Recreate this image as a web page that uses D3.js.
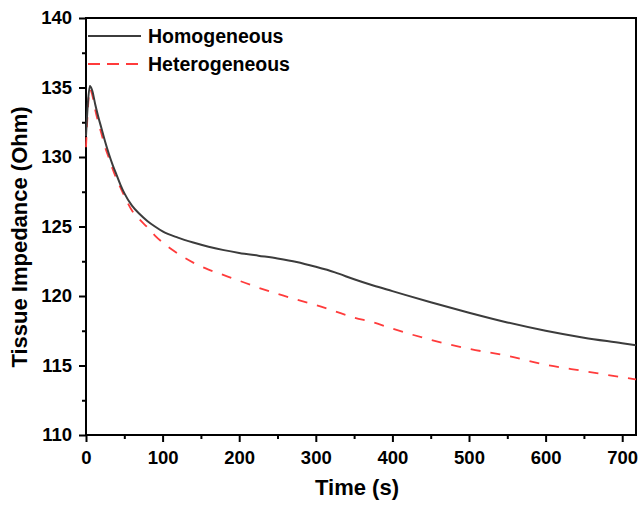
<!DOCTYPE html>
<html>
<head>
<meta charset="utf-8">
<script src="https://cdn.jsdelivr.net/npm/d3@7"></script>
<style>
  body { margin: 0; background: #fff; }
  text { font-family: "Liberation Sans", Arial, sans-serif; font-weight: bold; }
</style>
</head>
<body>
<div id="chart"></div>
<script>
// data
const time = [0, 2, 5, 8, 12, 16, 20, 25, 30, 35, 40, 45, 50, 60, 70, 80, 90, 100, 120, 140, 160, 180, 200,
  225, 250, 275, 300, 325, 350, 375, 400, 450, 500, 550, 600, 650, 700, 718];
const homogeneous = [131.5, 133.5, 135.1, 134.8, 133.8, 132.9, 132.1, 131.1, 130.2, 129.4, 128.7, 128.0, 127.4,
  126.5, 125.9, 125.4, 125.0, 124.65, 124.2, 123.85, 123.55, 123.3, 123.1, 122.9, 122.7, 122.45, 122.1,
  121.7, 121.2, 120.75, 120.35, 119.55, 118.8, 118.1, 117.5, 117.0, 116.6, 116.45];
const heterogeneous = [130.7, 133.0, 134.9, 134.5, 133.4, 132.5, 131.7, 130.7, 129.9, 129.1, 128.4, 127.8, 127.2,
  126.15, 125.5, 124.95, 124.35, 123.85, 123.05, 122.4, 121.9, 121.5, 121.1, 120.6, 120.15, 119.75, 119.35,
  118.9, 118.45, 118.1, 117.65, 116.85, 116.2, 115.7, 115.05, 114.6, 114.15, 114.0];
const xTicks = [0, 100, 200, 300, 400, 500, 600, 700];
const yTicks = [110, 115, 120, 125, 130, 135, 140];

const width = 638, height = 505;
const margin = {left: 86, right: 2, top: 18, bottom: 70};

const svg = d3.select("#chart").append("svg")
    .attr("width", width)
    .attr("height", height);

const x = d3.scaleLinear().domain([0, 718]).range([margin.left, width - margin.right]);
const y = d3.scaleLinear().domain([110, 140]).range([height - margin.bottom, margin.top]);

// minor ticks
const xAxisMinor = d3.axisBottom(x).tickValues(d3.range(50, 718, 100)).tickSize(4).tickFormat("");
const yAxisMinor = d3.axisLeft(y).tickValues(d3.range(112.5, 140, 5)).tickSize(4).tickFormat("");
svg.append("g").attr("transform", `translate(0,${y(110)})`).call(xAxisMinor);
svg.append("g").attr("transform", `translate(${x(0)},0)`).call(yAxisMinor);

// major
const xAxis = d3.axisBottom(x).tickValues(xTicks).tickSize(7).tickPadding(9);
const yAxis = d3.axisLeft(y).tickValues(yTicks).tickSize(7).tickPadding(7);
svg.append("g").attr("class", "xaxis").attr("transform", `translate(0,${y(110)})`).call(xAxis);
svg.append("g").attr("class", "yaxis").attr("transform", `translate(${x(0)},0)`).call(yAxis);

svg.selectAll(".tick line").attr("stroke", "#000").attr("stroke-width", 2);
svg.selectAll(".domain").remove();
svg.selectAll(".tick text").attr("font-size", 18.5).attr("fill", "#000");

// frame
svg.append("rect")
    .attr("x", x(0)).attr("y", y(140))
    .attr("width", x(718) - x(0)).attr("height", y(110) - y(140))
    .attr("fill", "none").attr("stroke", "#000").attr("stroke-width", 2);

// lines
const pts = (vals) => time.map((t, i) => [t, vals[i]]);
const line = d3.line().x(d => x(d[0])).y(d => y(d[1])).curve(d3.curveMonotoneX);

svg.append("path")
    .datum(pts(heterogeneous))
    .attr("d", line)
    .attr("fill", "none")
    .attr("stroke", "#ff3b3b")
    .attr("stroke-width", 1.8)
    .attr("stroke-dasharray", "10,10");

svg.append("path")
    .datum(pts(homogeneous))
    .attr("d", line)
    .attr("fill", "none")
    .attr("stroke", "#3c3c3c")
    .attr("stroke-width", 2);

// legend
const legend = [
  {name: "Homogeneous", color: "#3c3c3c", dash: null, y: 36},
  {name: "Heterogeneous", color: "#ff3b3b", dash: "12,7", y: 64}
];
legend.forEach(function(l) {
  svg.append("line")
      .attr("x1", 88).attr("x2", 141)
      .attr("y1", l.y).attr("y2", l.y)
      .attr("stroke", l.color).attr("stroke-width", 2)
      .attr("stroke-dasharray", l.dash);
  svg.append("text")
      .attr("x", 148).attr("y", l.y + 7)
      .attr("font-size", 19.5)
      .text(l.name);
});

// axis titles
svg.append("text")
    .attr("x", 357).attr("y", 495)
    .attr("text-anchor", "middle")
    .attr("font-size", 22)
    .text("Time (s)");

svg.append("text")
    .attr("transform", "translate(27,237) rotate(-90)")
    .attr("text-anchor", "middle")
    .attr("font-size", 22)
    .text("Tissue Impedance (Ohm)");
</script>
</body>
</html>
